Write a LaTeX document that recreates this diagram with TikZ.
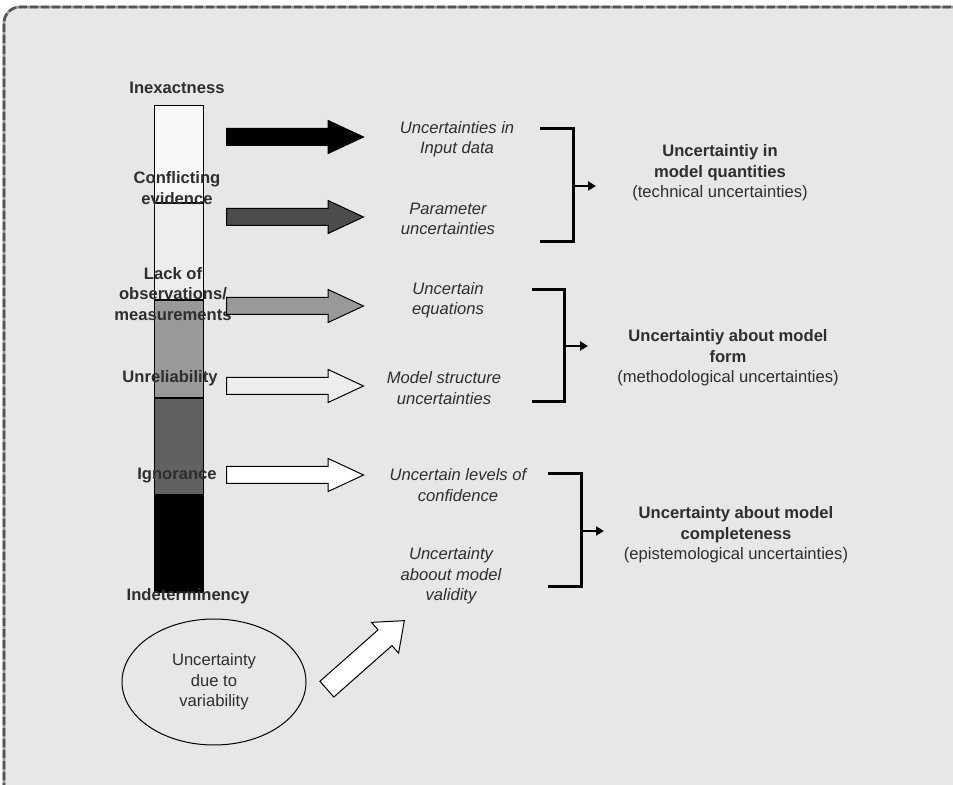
\documentclass[tikz,border=0pt]{standalone}
\usepackage{fontspec}
\setmainfont{Liberation Sans}
\usetikzlibrary{arrows.meta,shapes.arrows,shapes.geometric,positioning}
\definecolor{panel}{HTML}{E6E7E9}
\definecolor{ink}{HTML}{2E2E2E}
\definecolor{dashdark}{HTML}{555555}
\definecolor{dashlight}{HTML}{9B9B9B}

\begin{document}
\begin{tikzpicture}[x=0.5pt,y=-0.5pt,
  every node/.style={font=\fontsize{8.3}{10.25}\selectfont, text=ink, align=center},
  barlabel/.style={font=\fontsize{8.3}{10.25}\selectfont\bfseries},
  cause/.style={font=\fontsize{8.3}{10.25}\selectfont\itshape},
  seg/.style={draw=black, line width=0.5pt, minimum width=24.5pt, minimum height=48.3pt, inner sep=0pt},
  blockarrow/.style={shape=single arrow, draw=black, line width=0.5pt, inner sep=0pt, inner ysep=4pt,
    single arrow head extend=4pt, single arrow tip angle=50, minimum height=68.5pt, anchor=tail},
  bracket/.style={line width=1.5pt},
  toclass/.style={line width=1pt, -{Triangle[length=4pt,width=4.5pt]}}]

\useasboundingbox (0,0) rectangle (953,785);
\clip (0,0) rectangle (953,785);

% panel, runs off the right and bottom edges
\fill[panel, rounded corners=8] (4,7) rectangle (1200,1000);
\draw[dashlight, line width=1.3pt, rounded corners=8] (4,1000) -- (4,7) -- (1200,7);
\draw[dashdark, line width=1.3pt, rounded corners=8, dash pattern=on 4pt off 1.5pt] (4,1000) -- (4,7) -- (1200,7);

% the scale bar
\node[seg, fill=white!70!panel, anchor=north west] (s1) at (154,105) {};
\node[seg, fill=white!25!panel, below=0pt of s1] (s2) {};
\node[seg, fill=black!40, below=0pt of s2] (s3) {};
\node[seg, fill=black!62, below=0pt of s3] (s4) {};
\node[seg, fill=black, below=0pt of s4] (s5) {};

\node[barlabel] (inex) at (177,88) {Inexactness};
\node[barlabel] (confl) at (177,188) {Conflicting\\evidence};
\node[barlabel] (lack) at (173,294) {Lack of\\observations/\\measurements};
\node[barlabel] (unrel) at (170,378) {Unreliability};
\node[barlabel] (ignor) at (177,476) {Ignorance};
\node[barlabel] (indet) at (188,596) {Indeterminency};

% block arrows
\node[blockarrow, fill=black] (a1) at (226,137) {};
\node[blockarrow, fill=black!70] (a2) at (226,217) {};
\node[blockarrow, fill=black!40] (a3) at (226,306) {};
\node[blockarrow, fill=white!25!panel] (a4) at (226,386) {};
\node[blockarrow, fill=white] (a5) at (226,475) {};

% sources
\node[cause] (input) at (457,139) {Uncertainties in\\Input data};
\node[cause] (param) at (448,219) {Parameter\\uncertainties};
\node[cause] (equat) at (448,300) {Uncertain\\equations};
\node[cause] (struct) at (444,388) {Model structure\\uncertainties};
\node[cause] (levels) at (458,485) {Uncertain levels of\\confidence};
\node[cause] (valid) at (451,576) {Uncertainty\\aboout model\\validity};

% brackets
\draw[bracket] (540,129) -- (573,129) -- (573,242) -- (540,242);
\draw[bracket] (532,290) -- (564,290) -- (564,402) -- (532,402);
\draw[bracket] (548,474) -- (581,474) -- (581,587) -- (548,587);

\coordinate (k1) at (573,186);
\coordinate (k1e) at (596,186);
\coordinate (k2) at (564,346);
\coordinate (k2e) at (588,346);
\coordinate (k3) at (581,531);
\coordinate (k3e) at (604,531);
\draw[toclass] (k1) -- (k1e);
\draw[toclass] (k2) -- (k2e);
\draw[toclass] (k3) -- (k3e);

% classes
\node (quant) at (720,173) {\textbf{Uncertaintiy in}\\\textbf{model quantities}\\(technical uncertainties)};
\node (form) at (728,358) {\textbf{Uncertaintiy about model}\\\textbf{form}\\(methodological uncertainties)};
\node (compl) at (736,535) {\textbf{Uncertainty about model}\\\textbf{completeness}\\(epistemological uncertainties)};

% variability
\node[ellipse, draw=black, line width=0.5pt, minimum width=92pt, minimum height=63pt, inner sep=0pt] (var) at (214,682) {Uncertainty\\due to\\variability};
\node[shape=single arrow, draw=black, fill=white, line width=0.5pt, inner sep=0pt, inner ysep=5pt,
  single arrow head extend=5pt, single arrow tip angle=77, minimum height=51.7pt,
  anchor=tail, rotate=41.5] (a6) at (326.5,689.5) {};

\end{tikzpicture}
\end{document}
